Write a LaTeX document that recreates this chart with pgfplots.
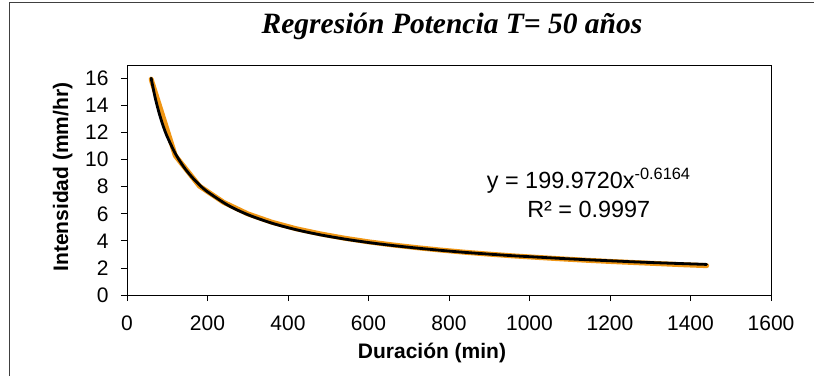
\documentclass[border=0pt]{standalone}
\usepackage{pgfplots}
\pgfplotsset{compat=1.18}
\usepackage{fontspec}
\setmainfont{Liberation Sans}
\newfontfamily\titlefont{Liberation Serif}
\definecolor{dataorange}{RGB}{240,150,20}
\begin{document}
\begin{tikzpicture}[x=1pt,y=1pt]
\useasboundingbox (0,0) rectangle (814,376);
\draw[black!75, line width=1pt] (9,0) -- (9,373) -- (814,373);
\begin{axis}[
  at={(127pt,81pt)}, anchor=south west, scale only axis,
  width=644pt, height=230pt,
  xmin=0, xmax=1600, ymin=0, ymax=17,
  xtick={0,200,...,1600}, ytick={0,2,...,16},
  tick align=outside, major tick length=6pt,
  xtick pos=bottom, ytick pos=left,
  axis line style={line width=1pt},
  tick style={black, line width=0.8pt},
  /pgf/number format/assume math mode=true,
  /pgf/number format/1000 sep={},
  ticklabel style={font=\fontsize{21}{24}\selectfont},
  yticklabel style={xshift=-9pt},
  xticklabel style={yshift=-11pt},
  xlabel={Duración (min)},
  ylabel={Intensidad (mm/hr)},
  xlabel style={at={(axis description cs:0.4736,-0.278)}, anchor=base, font=\fontsize{21}{24}\selectfont\bfseries},
  ylabel style={at={(axis description cs:-0.0916,0.513)}, anchor=base, font=\fontsize{21}{24}\selectfont\bfseries},
  title={Regresión Potencia T= 50 años},
  title style={at={(axis description cs:0.5047,1.109)}, anchor=base, font=\titlefont\bfseries\itshape\fontsize{29.5}{33}\selectfont},
]
\addplot[dataorange, line width=5pt, line cap=round, line join=round] coordinates {
 (60,15.95) (120,10.30) (180,8.05) (240,6.85) (300,6.00) (360,5.38) (420,4.90)
 (480,4.52) (540,4.20) (600,3.93) (660,3.70) (720,3.50) (780,3.32) (840,3.16)
 (900,3.02) (960,2.89) (1020,2.78) (1080,2.67) (1140,2.57) (1200,2.48)
 (1260,2.40) (1320,2.32) (1380,2.24) (1440,2.17)
};
\addplot[black, line width=2.8pt, smooth, line cap=round] coordinates {
 (60,16.03) (70,14.58) (80,13.43) (90,12.48) (100,11.70) (120,10.46) (140,9.51)
 (160,8.76) (180,8.14) (200,7.63) (250,6.65) (300,5.94) (360,5.31) (420,4.83)
 (480,4.45) (540,4.14) (600,3.88) (660,3.66) (720,3.47) (780,3.30) (840,3.15)
 (900,3.02) (960,2.90) (1020,2.80) (1080,2.70) (1140,2.61) (1200,2.53)
 (1260,2.45) (1320,2.38) (1380,2.32) (1440,2.26)
};
\node[anchor=base, font=\fontsize{23.4}{26}\selectfont] at (rel axis cs:0.717,0.461) {y = 199.9720x\textsuperscript{-0.6164}};
\node[anchor=base, font=\fontsize{23.4}{26}\selectfont] at (rel axis cs:0.717,0.339) {R² = 0.9997};
\end{axis}
\end{tikzpicture}
\end{document}
